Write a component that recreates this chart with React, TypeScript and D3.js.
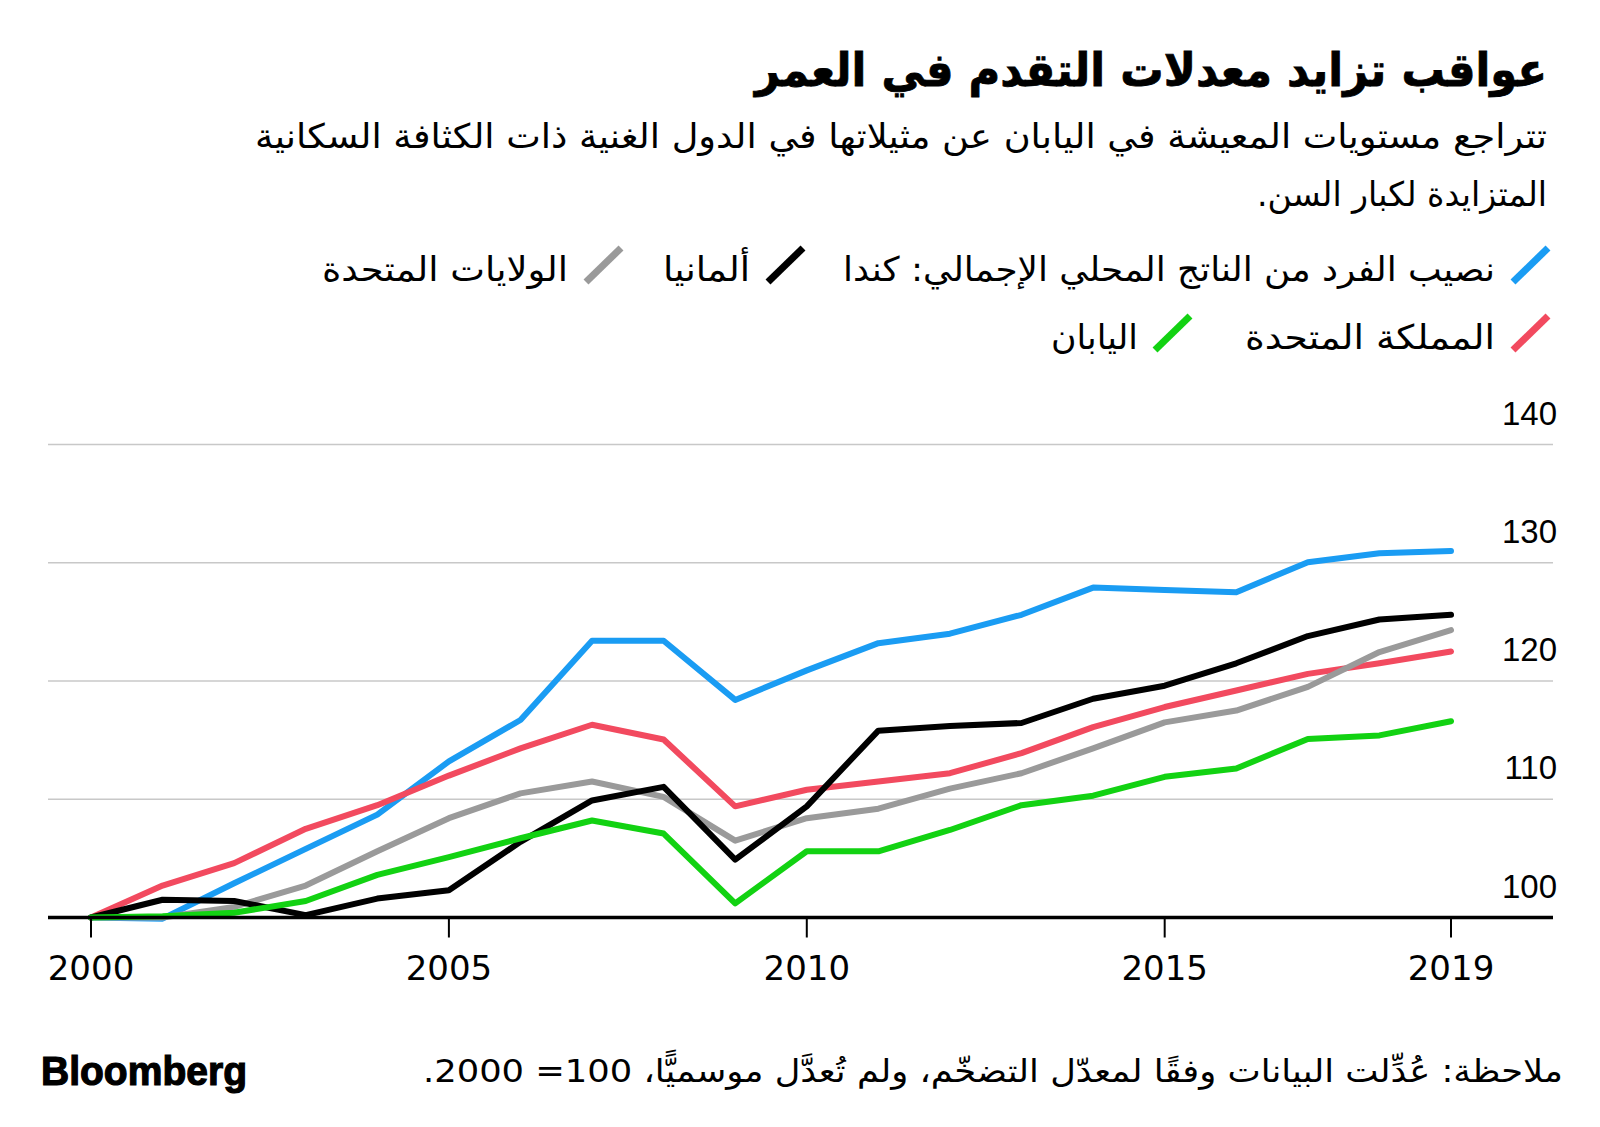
import React from "react";
import * as d3 from "d3";

const years = [2000, 2001, 2002, 2003, 2004, 2005, 2006, 2007, 2008, 2009, 2010, 2011, 2012, 2013, 2014, 2015, 2016, 2017, 2018, 2019];

const canada = [100, 99.9, 102.9, 105.8, 108.7, 113.2, 116.7, 123.4, 123.4, 118.4, 120.9, 123.2, 124.0, 125.6, 127.9, 127.7, 127.5, 130.05, 130.8, 131.0];
const germany = [100, 101.5, 101.4, 100.2, 101.6, 102.3, 106.4, 109.9, 111.05, 104.9, 109.4, 115.8, 116.2, 116.45, 118.5, 119.6, 121.5, 123.8, 125.2, 125.6];
const usa = [100, 100, 100.9, 102.7, 105.6, 108.4, 110.5, 111.5, 110.2, 106.5, 108.4, 109.2, 110.9, 112.2, 114.3, 116.5, 117.5, 119.5, 122.45, 124.3];
const uk = [100, 102.7, 104.6, 107.5, 109.5, 112.0, 114.3, 116.3, 115.05, 109.4, 110.8, 111.5, 112.2, 113.9, 116.1, 117.8, 119.2, 120.6, 121.5, 122.5];
const japan = [100, 100.1, 100.4, 101.4, 103.6, 105.1, 106.7, 108.2, 107.1, 101.2, 105.6, 105.6, 107.4, 109.5, 110.3, 111.9, 112.6, 115.1, 115.4, 116.6];

const yTicks = [100, 110, 120, 130, 140];
const xTicks = [2000, 2005, 2010, 2015, 2019];

const title = "عواقب تزايد معدلات التقدم في العمر";
const subtitle1 = "تتراجع مستويات المعيشة في اليابان عن مثيلاتها في الدول الغنية ذات الكثافة السكانية";
const subtitle2 = "المتزايدة لكبار السن.";
const footnote = "ملاحظة: عُدِّلت البيانات وفقًا لمعدّل التضخّم، ولم تُعدَّل موسميًّا، 100= 2000.";

const seriesNames = ["نصيب الفرد من الناتج المحلي الإجمالي: كندا", "ألمانيا", "الولايات المتحدة", "المملكة المتحدة", "اليابان"];
const seriesColors = ["#1a9cf3", "#000000", "#9a9a9a", "#f24a5f", "#12d212"];
const seriesValues = [canada, germany, usa, uk, japan];

const AR = "'DejaVu Sans', 'Noto Sans', sans-serif";

function RtlText({ x, y, size, weight = 400, width, stroke = 0, children }: any) {
  return (
    <text
      x={x}
      y={y}
      fontFamily={AR}
      fontSize={size}
      fontWeight={weight}
      fill="#000"
      stroke={stroke ? "#000" : "none"}
      strokeWidth={stroke}
      direction="rtl"
      textAnchor="start"
      style={{ direction: "rtl", unicodeBidi: "embed" }}
      textLength={width}
      lengthAdjust="spacingAndGlyphs"
    >
      {children}
    </text>
  );
}

export default function App() {
  const W = 1600;
  const H = 1127;
  const x = d3.scaleLinear().domain([2000, 2019]).range([91, 1451]);
  const y = d3.scaleLinear().domain([100, 140]).range([917.5, 444.5]);
  const line = d3
    .line<number>()
    .x((_, i) => x(years[i]))
    .y((d) => y(d));

  // draw order: blue, red, grey, black, green
  const order = [0, 3, 2, 1, 4];

  // legend layout: [row, slashLeft, textRight, textWidth]
  const legendLayout = [
    [0, 1513, 1495, 652],
    [0, 768, 750, 87],
    [0, 586, 568, 246],
    [1, 1513, 1495, 250],
    [1, 1155, 1138, 87],
  ];
  const rowCenter = [265, 333];
  const rowBaseline = [281, 349];

  return (
    <svg
      width={W}
      height={H}
      style={{ position: "absolute", left: 0, top: 0, background: "#fff", display: "block" }}
    >
      <rect x={0} y={0} width={W} height={H} fill="#fff" />
      <RtlText x={1547} y={86} size={46} weight={700} width={792} stroke={0.8}>
        {title}
      </RtlText>
      <RtlText x={1547} y={148} size={34} width={1292}>
        {subtitle1}
      </RtlText>
      <RtlText x={1547} y={206} size={34} width={290}>
        {subtitle2}
      </RtlText>

      {seriesNames.map((name, i) => {
        const [row, sl, tr, tw] = legendLayout[i];
        const yc = rowCenter[row];
        return (
          <g key={name}>
            <line
              x1={sl}
              y1={yc + 17}
              x2={sl + 35}
              y2={yc - 17}
              stroke={seriesColors[i]}
              strokeWidth={7}
            />
            <RtlText x={tr} y={rowBaseline[row]} size={34} width={tw}>
              {name}
            </RtlText>
          </g>
        );
      })}

      {yTicks.filter((t) => t !== 100).map((t) => (
        <line key={"g" + t} x1={48} x2={1553} y1={y(t)} y2={y(t)} stroke="#c8c8c8" strokeWidth={1.5} />
      ))}
      {yTicks.map((t) => (
        <text
          key={"yl" + t}
          x={1557}
          y={y(t) - 20}
          textAnchor="end"
          fontFamily="'Liberation Sans', Arial, sans-serif"
          fontSize={33}
          fill="#000"
        >
          {t}
        </text>
      ))}

      {order.map((k) => (
        <path
          key={"s" + k}
          d={line(seriesValues[k]) || ""}
          fill="none"
          stroke={seriesColors[k]}
          strokeWidth={6}
          strokeLinejoin="round"
          strokeLinecap="round"
        />
      ))}

      <line x1={48} x2={1553} y1={y(100)} y2={y(100)} stroke="#000" strokeWidth={3.5} />
      {xTicks.map((t) => (
        <g key={"xt" + t}>
          <line x1={x(t)} x2={x(t)} y1={y(100)} y2={y(100) + 20} stroke="#000" strokeWidth={2} />
          <text
            x={x(t)}
            y={980}
            textAnchor="middle"
            fontFamily="'DejaVu Sans', sans-serif"
            fontSize={34}
            fill="#000"
          >
            {t}
          </text>
        </g>
      ))}

      <RtlText x={1563} y={1082} size={32} width={1140}>
        {footnote}
      </RtlText>
      <text
        x={41}
        y={1085}
        fontFamily="'Liberation Sans', Arial, sans-serif"
        fontWeight={700}
        fontSize={40}
        fill="#000"
        stroke="#000"
        strokeWidth={1.2}
        textLength={206}
        lengthAdjust="spacingAndGlyphs"
      >
        Bloomberg
      </text>
    </svg>
  );
}
